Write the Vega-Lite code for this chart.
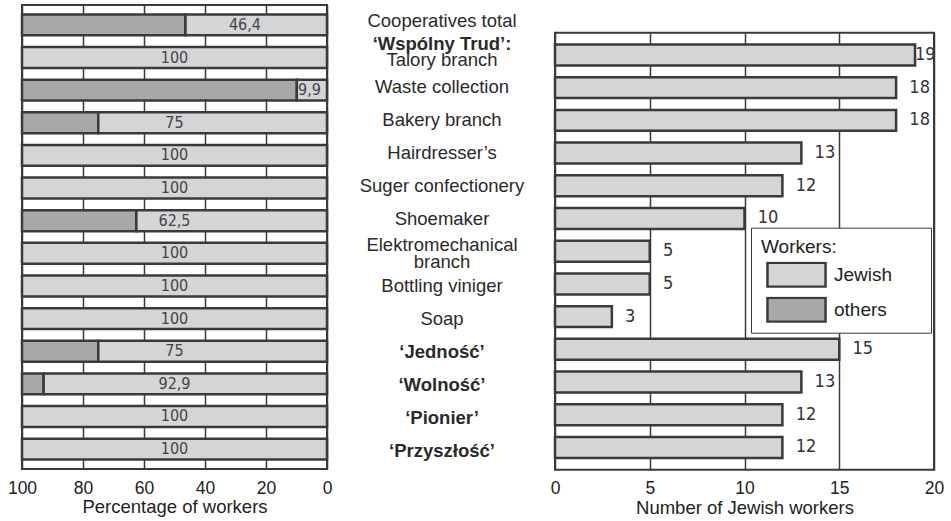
{
  "$schema": "https://vega.github.io/schema/vega-lite/v6.json",
  "background": "white",
  "padding": {"left": 6, "top": 4, "right": 5, "bottom": 2},
  "spacing": 0,
  "config": {
    "font": "Liberation Sans",
    "view": {"stroke": "#3a3a3a", "strokeWidth": 2},
    "axis": {
      "labelFont": "Liberation Sans", "labelFontSize": 17.5, "labelColor": "#222", "labelFlush": false,
      "titleFont": "Liberation Sans", "titleFontSize": 18.5, "titleFontWeight": "normal", "titleColor": "#222",
      "ticks": false, "domain": false, "gridColor": "#3a3a3a", "gridWidth": 1.5, "gridOpacity": 1,
      "labelPadding": 10, "titlePadding": 1
    }
  },
  "resolve": {"scale": {"color": "independent"}, "legend": {"color": "independent"}},
  "datasets": {
    "pct": [
      {"id": "Cooperatives total", "jewish": 46.4},
      {"id": "Talory branch", "jewish": 100},
      {"id": "Waste collection", "jewish": 9.9},
      {"id": "Bakery branch", "jewish": 75},
      {"id": "Hairdresser’s", "jewish": 100},
      {"id": "Suger confectionery", "jewish": 100},
      {"id": "Shoemaker", "jewish": 62.5},
      {"id": "Elektromechanical branch", "jewish": 100},
      {"id": "Bottling viniger", "jewish": 100},
      {"id": "Soap", "jewish": 100},
      {"id": "‘Jedność’", "jewish": 75},
      {"id": "‘Wolność’", "jewish": 92.9},
      {"id": "‘Pionier’", "jewish": 100},
      {"id": "‘Przyszłość’", "jewish": 100}
    ],
    "rows": [
      {"id": "Cooperatives total", "lines": "Cooperatives total", "bold": false},
      {"id": "Talory branch", "lines": "Talory branch", "bold": false, "header": "‘Wspólny Trud’:"},
      {"id": "Waste collection", "lines": "Waste collection", "bold": false},
      {"id": "Bakery branch", "lines": "Bakery branch", "bold": false},
      {"id": "Hairdresser’s", "lines": "Hairdresser’s", "bold": false},
      {"id": "Suger confectionery", "lines": "Suger confectionery", "bold": false},
      {"id": "Shoemaker", "lines": "Shoemaker", "bold": false},
      {"id": "Elektromechanical branch", "lines": ["Elektromechanical", "branch"], "bold": false},
      {"id": "Bottling viniger", "lines": "Bottling viniger", "bold": false},
      {"id": "Soap", "lines": "Soap", "bold": false},
      {"id": "‘Jedność’", "lines": "‘Jedność’", "bold": true},
      {"id": "‘Wolność’", "lines": "‘Wolność’", "bold": true},
      {"id": "‘Pionier’", "lines": "‘Pionier’", "bold": true},
      {"id": "‘Przyszłość’", "lines": "‘Przyszłość’", "bold": true}
    ],
    "count": [
      {"id": "Talory branch", "n": 19, "workers": "Jewish"},
      {"id": "Waste collection", "n": 18, "workers": "Jewish"},
      {"id": "Bakery branch", "n": 18, "workers": "Jewish"},
      {"id": "Hairdresser’s", "n": 13, "workers": "Jewish"},
      {"id": "Suger confectionery", "n": 12, "workers": "Jewish"},
      {"id": "Shoemaker", "n": 10, "workers": "Jewish"},
      {"id": "Elektromechanical branch", "n": 5, "workers": "Jewish"},
      {"id": "Bottling viniger", "n": 5, "workers": "Jewish"},
      {"id": "Soap", "n": 3, "workers": "Jewish"},
      {"id": "‘Jedność’", "n": 15, "workers": "Jewish"},
      {"id": "‘Wolność’", "n": 13, "workers": "Jewish"},
      {"id": "‘Pionier’", "n": 12, "workers": "Jewish"},
      {"id": "‘Przyszłość’", "n": 12, "workers": "Jewish"}
    ]
  },
  "hconcat": [
    {
      "width": 305,
      "height": 464,
      "data": {"name": "pct"},
      "encoding": {
        "y": {"field": "id", "type": "nominal", "axis": null,
          "scale": {"domain": ["Cooperatives total", "Talory branch", "Waste collection", "Bakery branch", "Hairdresser’s", "Suger confectionery", "Shoemaker", "Elektromechanical branch", "Bottling viniger", "Soap", "‘Jedność’", "‘Wolność’", "‘Pionier’", "‘Przyszłość’"], "paddingInner": 0.36, "paddingOuter": 0.29}}
      },
      "layer": [
        {
          "transform": [{"filter": "datum.jewish < 100"}],
          "mark": {"type": "bar", "fill": "#a7a8aa", "stroke": "#3a3a3a", "strokeWidth": 2.5},
          "encoding": {
            "x": {"field": "jewish", "type": "quantitative", "scale": {"domain": [0, 100], "reverse": true},
              "axis": {"values": [0, 20, 40, 60, 80, 100], "grid": true}, "title": "Percentage of workers"},
            "x2": {"datum": 100}
          }
        },
        {
          "mark": {"type": "bar", "fill": "#d4d5d7", "stroke": "#3a3a3a", "strokeWidth": 2.5},
          "encoding": {
            "x": {"field": "jewish", "type": "quantitative", "title": "Percentage of workers"},
            "x2": {"datum": 0}
          }
        },
        {
          "transform": [
            {"calculate": "datum.jewish < 50 ? datum.jewish * 0.58 : 50", "as": "pos"},
            {"calculate": "replace(toString(datum.jewish), '.', ',')", "as": "label"}
          ],
          "mark": {"type": "text", "font": "Liberation Sans Narrow, Arial Narrow, DejaVu Sans Condensed, sans-serif", "fontSize": 16, "fill": "#444", "align": "center", "baseline": "middle"},
          "encoding": {
            "x": {"field": "pos", "type": "quantitative", "title": "Percentage of workers"},
            "text": {"field": "label"}
          }
        }
      ]
    },
    {
      "width": 216,
      "height": 464,
      "view": {"stroke": null},
      "data": {"name": "rows"},
      "encoding": {
        "y": {"field": "id", "type": "nominal", "axis": null,
          "scale": {"domain": ["Cooperatives total", "Talory branch", "Waste collection", "Bakery branch", "Hairdresser’s", "Suger confectionery", "Shoemaker", "Elektromechanical branch", "Bottling viniger", "Soap", "‘Jedność’", "‘Wolność’", "‘Pionier’", "‘Przyszłość’"], "paddingInner": 0.36, "paddingOuter": 0.29}}
      },
      "layer": [
        {
          "transform": [{"filter": "!datum.bold && !isValid(datum.header) && !isArray(datum.lines)"}],
          "mark": {"type": "text", "font": "Liberation Sans", "fontSize": 18.5, "fill": "#2a2a2a", "dy": -1, "dx": 1, "align": "center", "baseline": "middle"},
          "encoding": {"text": {"field": "lines"}}
        },
        {
          "transform": [{"filter": "isArray(datum.lines)"}],
          "mark": {"type": "text", "font": "Liberation Sans", "fontSize": 18.5, "fill": "#2a2a2a", "lineHeight": 17, "dy": -9, "dx": 1, "align": "center", "baseline": "middle"},
          "encoding": {"text": {"field": "lines"}}
        },
        {
          "transform": [{"filter": "isValid(datum.header)"}],
          "mark": {"type": "text", "font": "Liberation Sans", "fontSize": 18.5, "fill": "#2a2a2a", "dy": 5, "dx": 1, "align": "center", "baseline": "middle"},
          "encoding": {"text": {"field": "lines"}}
        },
        {
          "transform": [{"filter": "isValid(datum.header)"}],
          "mark": {"type": "text", "font": "Liberation Sans", "fontSize": 18.5, "fontWeight": "bold", "fill": "#2a2a2a", "dy": -11, "dx": 1, "align": "center", "baseline": "middle"},
          "encoding": {"text": {"field": "header"}}
        },
        {
          "transform": [{"filter": "datum.bold"}],
          "mark": {"type": "text", "font": "Liberation Sans", "fontSize": 18.5, "fontWeight": "bold", "fill": "#2a2a2a", "dy": -1, "dx": 1, "align": "center", "baseline": "middle"},
          "encoding": {"text": {"field": "lines"}}
        }
      ]
    },
    {
      "spacing": 16.7,
      "resolve": {"scale": {"color": "independent"}, "legend": {"color": "independent"}},
      "vconcat": [
        {
          "width": 379,
          "height": 10,
          "view": {"stroke": null},
          "data": {"values": [{"t": ""}]},
          "mark": {"type": "text"},
          "encoding": {"text": {"field": "t"}}
        },
        {
          "width": 379,
          "height": 437,
          "data": {"name": "count"},
          "encoding": {
            "y": {"field": "id", "type": "nominal", "axis": null,
              "scale": {"domain": ["Talory branch", "Waste collection", "Bakery branch", "Hairdresser’s", "Suger confectionery", "Shoemaker", "Elektromechanical branch", "Bottling viniger", "Soap", "‘Jedność’", "‘Wolność’", "‘Pionier’", "‘Przyszłość’"], "paddingInner": 0.36, "paddingOuter": 0.36}}
          },
          "layer": [
            {
              "mark": {"type": "bar", "stroke": "#3a3a3a", "strokeWidth": 2.5},
              "encoding": {
                "x": {"field": "n", "type": "quantitative", "scale": {"domain": [0, 20]},
                  "axis": {"values": [0, 5, 10, 15, 20], "grid": true}, "title": "Number of Jewish workers"},
                "color": {"field": "workers", "type": "nominal",
                  "scale": {"domain": ["Jewish", "others"], "range": ["#d4d5d7", "#a7a8aa"]},
                  "legend": {
                    "title": "\u00a0Workers:",
                    "orient": "none", "legendX": 196, "legendY": 195,
                    "fillColor": "white", "strokeColor": "#3a3a3a", "padding": 10,
                    "titleFont": "Liberation Sans", "titleFontSize": 19, "titleFontWeight": "normal", "titleColor": "#222", "titlePadding": 5,
                    "labelFont": "Liberation Sans", "labelFontSize": 19, "labelColor": "#222", "labelOffset": 24,
                    "labelExpr": "datum.label + '\u2800\u2800'",
                    "symbolType": "M-2.42,-1H2.42V1H-2.42Z", "symbolSize": 576, "symbolOffset": 22,
                    "symbolStrokeColor": "#3a3a3a", "symbolStrokeWidth": 2.5, "rowPadding": 9, "clipHeight": 26
                  }
                }
              }
            },
            {
              "transform": [{"calculate": "min(datum.n + 0.7, 19.0)", "as": "lx"}],
              "mark": {"type": "text", "font": "Liberation Sans Narrow, Arial Narrow, DejaVu Sans Condensed, sans-serif", "fontSize": 18, "fill": "#333", "align": "left", "baseline": "middle"},
              "encoding": {
                "x": {"field": "lx", "type": "quantitative", "title": "Number of Jewish workers"},
                "text": {"field": "n"}
              }
            }
          ]
        }
      ]
    }
  ]
}
